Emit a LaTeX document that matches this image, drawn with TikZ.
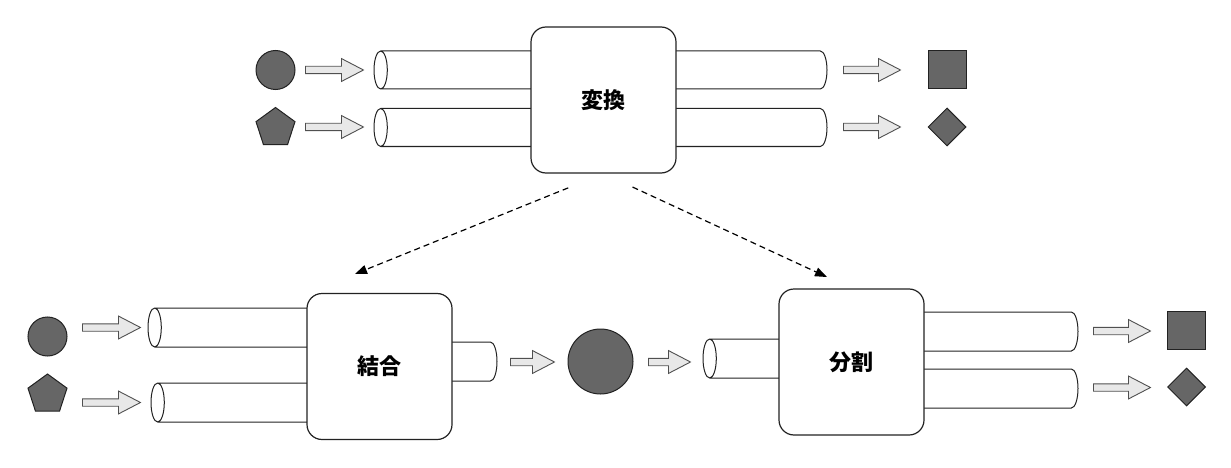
\documentclass[tikz,border=0pt]{standalone}
\usepackage{fontspec}
\newfontfamily\cjk{Noto Sans CJK JP}
\usetikzlibrary{shapes.geometric,shapes.arrows,arrows.meta}
\definecolor{tokengray}{RGB}{102,102,102}
\definecolor{arrowfill}{RGB}{232,232,232}
\definecolor{arrowline}{RGB}{80,80,80}
\definecolor{edgeblack}{RGB}{34,34,34}

\begin{document}
\begin{tikzpicture}[
    x=1pt, y=-1pt,
    stage/.style={
        rectangle,
        rounded corners=15pt,
        minimum width=145pt,
        minimum height=146pt,
        draw=edgeblack, fill=white, line width=1.2pt,
        font=\cjk\bfseries\fontsize{22}{26}\selectfont
    },
    pipe/.style={
        cylinder, shape border rotate=180, aspect=0.35, anchor=shape center,
        draw=edgeblack, fill=white, line width=1pt,
        minimum width=38pt, inner xsep=0pt, inner ysep=19pt
    },
    push/.style={
        single arrow, anchor=tail, draw=arrowline, fill=arrowfill, line width=0.9pt,
        single arrow head extend=7.75pt,
        single arrow tip angle=55, inner xsep=0pt, inner ysep=3.25pt
    },
    token/.style={draw=edgeblack, fill=tokengray, line width=1pt, inner sep=0pt},
    flow/.style={dash pattern=on 6pt off 4pt, line width=1.2pt,
        -{Triangle[length=12pt,width=9pt]}}
]
    \useasboundingbox (0,0) rectangle (1231,468);

    % Transform
    \node[pipe, minimum height=453pt] (tpipea) at (600.5,70) {};
    \node[pipe, minimum height=453pt] (tpipeb) at (600.5,127.5) {};
    \node[stage] (conv) at (603.5,100) {変換};
    \node[token, circle, minimum size=39pt] (tin1) at (275.5,70) {};
    \node[token, regular polygon, regular polygon sides=5, minimum size=41pt] (tin2) at (275.5,128) {};
    \node[push, minimum height=58pt] (tarr1) at (305,70) {};
    \node[push, minimum height=58pt] (tarr2) at (305,127) {};
    \node[push, minimum height=57pt] (tarr3) at (843,70) {};
    \node[push, minimum height=57pt] (tarr4) at (843,127) {};
    \node[token, rectangle, minimum size=38pt] (tout1) at (947,70) {};
    \node[token, diamond, minimum size=38pt] (tout2) at (947,127) {};

    % Merge
    \node[pipe, minimum height=182pt, minimum width=39pt] (mpipea) at (239,327.5) {};
    \node[pipe, minimum height=182pt, minimum width=39pt] (mpipeb) at (242,402.5) {};
    \node[pipe, minimum height=67pt, minimum width=39pt] (mpipec) at (463.5,361.5) {};
    \node[stage] (merge) at (379.5,366.5) {結合};
    \node[token, circle, minimum size=39pt] (min1) at (47.5,336.5) {};
    \node[token, regular polygon, regular polygon sides=5, minimum size=41pt] (min2) at (47.5,394.5) {};
    \node[push, minimum height=58pt] (marr1) at (82,327.5) {};
    \node[push, minimum height=58pt] (marr2) at (82,402.5) {};
    \node[push, minimum height=44pt] (marr3) at (510,362) {};
    \node[token, circle, minimum size=65pt] (bundle) at (600.5,361.5) {};
    \node[push, minimum height=42pt] (sarr0) at (648,362) {};

    % Split
    \node[pipe, minimum height=97pt, minimum width=39pt] (spipea) at (751.5,358.5) {};
    \node[pipe, minimum height=178pt, minimum width=39pt] (spipeb) at (989,331.5) {};
    \node[pipe, minimum height=178pt, minimum width=39pt] (spipec) at (989,388.5) {};
    \node[stage] (split) at (851.5,362) {分割};
    \node[push, minimum height=57pt] (sarr1) at (1093,331) {};
    \node[push, minimum height=57pt] (sarr2) at (1093,387.5) {};
    \node[token, rectangle, minimum size=38pt] (sout1) at (1186.5,330) {};
    \node[token, diamond, minimum size=38pt] (sout2) at (1186.5,387) {};

    % Derived stages
    \coordinate (mergetop) at (355,274);
    \coordinate (splittop) at (827,277);
    \draw[flow, shorten <=38pt] (conv.south) -- (mergetop);
    \draw[flow, shorten <=32pt] (conv.south) -- (splittop);
\end{tikzpicture}
\end{document}
